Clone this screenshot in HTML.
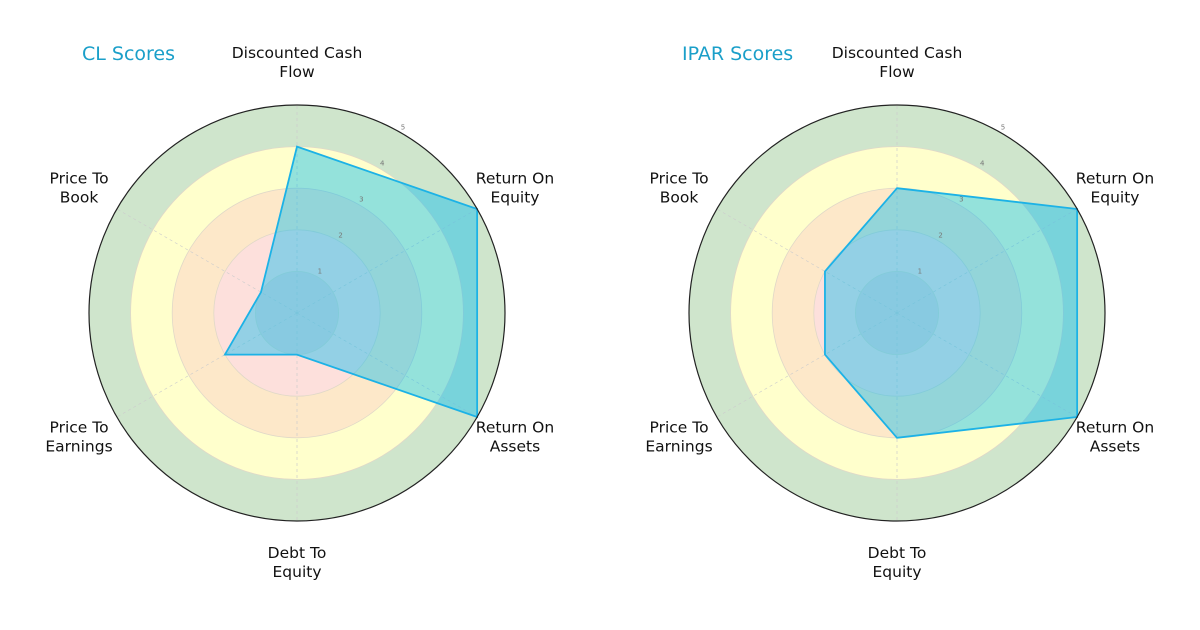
<!DOCTYPE html>
<html><head><meta charset="utf-8"><style>
body{margin:0;background:#fff;}
svg text{font-family:"DejaVu Sans","Liberation Sans",sans-serif;}
</style></head><body>
<svg id="chart" width="1200" height="625"></svg>
<script>
const categories=["Discounted Cash\nFlow","Return On\nEquity","Return On\nAssets","Debt To\nEquity","Price To\nEarnings","Price To\nBook"];
const clValues=[4,5,5,1,2,1];
const iparValues=[3,5,5,3,2,2];
const titles=["CL Scores","IPAR Scores"];
const tickLabels=["1","2","3","4","5"];
const maxV=5;
const NS="http://www.w3.org/2000/svg";
const svg=document.getElementById('chart');
function mk(tag,attrs,parent){const e=document.createElementNS(NS,tag);for(const k in attrs)e.setAttribute(k,attrs[k]);(parent||svg).appendChild(e);return e;}
const R=208;
function rScale(v){return v/maxV*R;}
function pt(cx,cy,i,v){const a=i*Math.PI/3;return [cx+rScale(v)*Math.sin(a),cy-rScale(v)*Math.cos(a)];}
const bands=[[5,"#cfe5cc"],[4,"#ffffcc"],[3,"#fde8c9"],[2,"#fde0dc"],[1,"#ebd6d6"]];
function drawRadar(cx,cy,vals,title,key){
  const g=mk('g',{});
  
  
  bands.forEach(b=>{const c=mk('circle',{cx:cx,cy:cy,r:rScale(b[0]),fill:b[1],stroke:b[0]<5?'#e0d8c8':'none','stroke-width':0.8},g);
    
    });
  categories.forEach((c,i)=>{const p=pt(cx,cy,i,maxV);
    const l=mk('line',{x1:cx,y1:cy,x2:p[0],y2:p[1],stroke:'#ccc','stroke-width':0.7,'stroke-dasharray':'3,3'},g);
    
    });
  const pts=vals.map((v,i)=>pt(cx,cy,i,v).join(',')).join(' ');
  const poly=mk('polygon',{points:pts,fill:'rgba(0,186,240,0.42)',stroke:'#1cb2e6','stroke-width':1.8},g);
  
  
  const outer=mk('circle',{cx:cx,cy:cy,r:R,fill:'none',stroke:'#222','stroke-width':1.2},g);
  
  
  tickLabels.forEach((t,i)=>{const a=Math.PI/6;const rr=rScale(i+1)+4;
    const tx=mk('text',{x:cx+rr*Math.sin(a),y:cy-rr*Math.cos(a),'font-size':7,fill:'#777','text-anchor':'middle'},g);
    tx.textContent=t;
    
    });
  categories.forEach((c,i)=>{const p=pt(cx,cy,i,maxV+1.05);const lines=c.split('\n');
    const shift=Math.cos(i*Math.PI/3)<-0.1?-3:0;
    const tx=mk('text',{x:p[0],y:p[1]-(lines.length-1)*9.5+6+shift,'font-size':15.5,fill:'#111','text-anchor':'middle'},g);
    lines.forEach((ln,j)=>{const ts=mk('tspan',{x:p[0],dy:j?19:0},tx);ts.textContent=ln;});
    
    });
  const tt=mk('text',{x:cx-215,y:60,'font-size':19,fill:'#1a9fc9'},g);
  tt.textContent=title;
  
  
}
drawRadar(297,313,clValues,titles[0],'cl');
drawRadar(897,313,iparValues,titles[1],'ipar');
</script>
</body></html>
